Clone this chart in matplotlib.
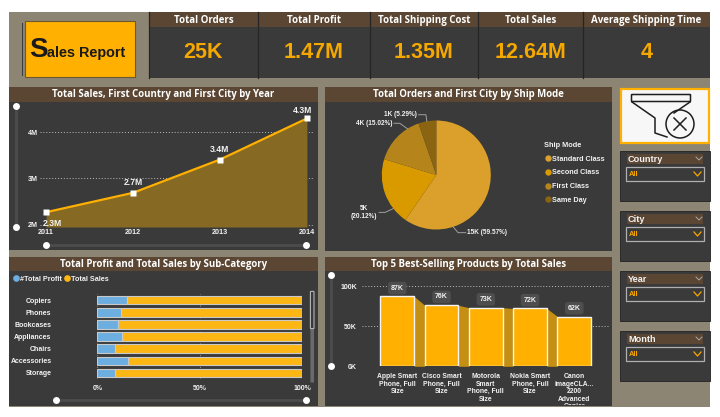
# -*- coding: utf-8 -*-
# Sales Report dashboard, laid out in pixel coordinates on a 720x417 canvas
import numpy as np
import matplotlib
matplotlib.use("Agg")
import matplotlib.pyplot as plt
from matplotlib.lines import Line2D
from matplotlib.patches import Rectangle, Circle, FancyBboxPatch
from matplotlib.transforms import Bbox

W, H = 720, 417

# ---- data ----
kpi_titles = ["Total Orders", "Total Profit", "Total Shipping Cost", "Total Sales", "Average Shipping Time"]
kpi_values = ["25K", "1.47M", "1.35M", "12.64M", "4"]

years = [2011, 2012, 2013, 2014]
year_sales = [2.27, 2.69, 3.41, 4.30]
year_labels = ["2.3M", "2.7M", "3.4M", "4.3M"]
year_ticks = [2, 3, 4]
year_tick_labels = ["2M", "3M", "4M"]

ship_modes = ["Standard Class", "Second Class", "First Class", "Same Day"]
ship_share = [59.57, 20.12, 15.02, 5.29]
ship_labels = ["15K (59.57%)", "5K\n(20.12%)", "4K (15.02%)", "1K (5.29%)"]

sub_categories = ["Copiers", "Phones", "Bookcases", "Appliances", "Chairs", "Accessories", "Storage"]
profit_pct = [14.7, 11.4, 10.0, 12.2, 8.6, 14.8, 8.8]
sales_pct = [85.3, 88.6, 90.0, 87.8, 91.4, 85.2, 91.2]

products = ["Apple Smart\nPhone, Full\nSize", "Cisco Smart\nPhone, Full\nSize",
            "Motorola\nSmart\nPhone, Full\nSize", "Nokia Smart\nPhone, Full\nSize",
            "Canon\nimageCLA...\n2200\nAdvanced\nCopier"]
product_sales = [87, 76, 73, 72, 62]
product_labels = ["87K", "76K", "73K", "72K", "62K"]

slicers = ["Country", "City", "Year", "Month"]

# ---- colours ----
TAN = "#8C8573"
PANEL = "#3A3A3A"
HEAD = "#5A4632"
ORANGE = "#FFB000"
KPI_ORANGE = "#F5A800"
WHITE = "#F2F2F2"
SANS = "Liberation Sans"
TITLE = "Open Sans"

plt.rcParams["font.family"] = SANS

fig = plt.figure(figsize=(W / 100, H / 100), dpi=100, facecolor="white")
bg = fig.add_axes([0, 0, 1, 1])
bg.set_xlim(0, W)
bg.set_ylim(H, 0)
bg.axis("off")


def box(x0, y0, x1, y1, color, **kw):
    bg.add_patch(Rectangle((x0, y0), x1 - x0, y1 - y0, facecolor=color, edgecolor=kw.pop("ec", "none"), **kw))


def px_axes(x0, y0, x1, y1):
    ax = fig.add_axes([x0 / W, 1 - y1 / H, (x1 - x0) / W, (y1 - y0) / H])
    ax.patch.set_alpha(0)
    for s in ax.spines.values():
        s.set_visible(False)
    return ax


def panel(x0, y0, x1, y1, title, head=15):
    box(x0, y0, x1, y1, PANEL)
    box(x0, y0, x1, y0 + head, HEAD)
    bg.text((x0 + x1) / 2, y0 + head / 2, title, color="white", ha="center", va="center",
            fontsize=6.9, fontweight="bold", family=TITLE)


def slider(x0, y0, x1, y1):
    bg.plot([x0, x1], [y0, y1], color="#4C4C4C", lw=2, solid_capstyle="round", zorder=2)
    bg.plot([x0, x1], [y0, y1], "o", color="white", ms=5, mec="none", zorder=3)


# ---- page background ----
box(9, 12, 710, 407, TAN)

# ---- logo ----
box(22, 23, 23, 76, "#3A3A3A")
box(25, 21, 135, 77, ORANGE, ec="#6B5A2E", lw=0.8)
bg.text(29, 57, "S", fontsize=20, fontweight="bold", color="#1A1A1A", va="baseline")
bg.text(47, 57, "ales Report", fontsize=10.4, fontweight="bold", color="#1A1A1A", va="baseline")

# ---- KPI cards ----
kpi_edges = [149, 258, 370, 478, 583, 710]
for i in range(5):
    x0, x1 = kpi_edges[i], kpi_edges[i + 1]
    box(x0, 12, x1, 78, PANEL)
    box(x0, 12, x1, 27, HEAD)
    bg.plot([x0, x0], [12, 78], color="#252525", lw=0.9)
    bg.text((x0 + x1) / 2, 20, kpi_titles[i], color="white", ha="center", va="center",
            fontsize=7.0, fontweight="bold", family=TITLE)
    bg.text((x0 + x1) / 2, 52, kpi_values[i], color=KPI_ORANGE, ha="center", va="center",
            fontsize=15.5, fontweight="bold")

# ---- panels ----
panel(9, 87, 318, 250, "Total Sales, First Country and First City by Year")
panel(325, 87, 612, 251, "Total Orders and First City by Ship Mode")
panel(9, 257, 318, 406, "Total Profit and Total Sales by Sub-Category", head=14)
panel(325, 257, 612, 406, "Top 5 Best-Selling Products by Total Sales", head=14)

# ---- line / area chart ----
ax1 = px_axes(40, 108, 313, 227)
ax1.set_xlim(2010.93, 2014.07)
ax1.set_ylim(1.95, 4.526)
ax1.fill_between(years, year_sales, 1.95, color="#866A24", lw=0, zorder=2)
ax1.plot(years, year_sales, color=ORANGE, lw=1.6, zorder=3)
ax1.plot(years, year_sales, "s", color="white", ms=4.2, mec="none", zorder=4, clip_on=False)
ax1.set_xticks(years)
ax1.set_xticklabels(years)
ax1.set_yticks(year_ticks)
ax1.set_yticklabels(year_tick_labels)
ax1.tick_params(length=0, labelcolor=WHITE, labelsize=5.2, pad=1.5)
for t in ax1.get_xticklabels() + ax1.get_yticklabels():
    t.set_fontweight("bold")
ax1.grid(axis="y", color="#BDBDBD", ls=(0, (1, 2)), lw=0.7, zorder=1)
label_offsets = [(4.5, -8), (0, 7.5), (0, 7.5), (-3, 6)]
for xv, yv, lab, off in zip(years, year_sales, year_labels, label_offsets):
    ax1.annotate(lab, (xv, yv), xytext=off, textcoords="offset points", ha="center", va="center",
                 color=WHITE, fontsize=6.2, fontweight="bold", zorder=5, annotation_clip=False)
slider(16, 106, 16, 227)
slider(46, 245, 306, 245)

# ---- pie ----
ax2 = px_axes(381.8, 120.5, 490.8, 229.5)
ship_colors = ["#DAA02B", "#D99A00", "#B5851C", "#8A6410"]
wedges, _ = ax2.pie(ship_share, colors=ship_colors, startangle=90, counterclock=False, radius=1,
                    wedgeprops=dict(lw=0))
ax2.set_xlim(-1, 1)
ax2.set_ylim(-1, 1)
# rim angle of each leader, elbow and label anchor (axes units, radius = 1)
label_pos = [(-72, 0.40, -1.058, 0.54, -1.058, "left"), (218, -0.94, -0.686, -1.05, -0.686, "right"),
             (122, -0.67, 0.949, -0.776, 0.949, "right"), (100, -0.19, 1.106, -0.354 + 0.03, 1.106, "right")]
for lab, (ang, ex, ey, tx, ty, ha) in zip(ship_labels, label_pos):
    a = np.deg2rad(ang)
    ax2.plot([np.cos(a), ex, tx], [np.sin(a), ey, ty], color="#A0A0A0", lw=0.7, clip_on=False)
    ax2.text(tx + (0.03 if ha == "left" else -0.03), ty, lab, ha=ha, va="center", color=WHITE,
             fontsize=4.7, fontweight="bold", multialignment="center")
ship_handles = [Line2D([], [], marker="o", ls="", color=c, ms=4.6, mec="none") for c in ship_colors]
leg2 = ax2.legend(ship_handles, ship_modes, title="Ship Mode", loc="upper left",
                  bbox_to_anchor=(544, 142), bbox_transform=bg.transData, frameon=False,
                  alignment="left", fontsize=5.2, labelcolor=WHITE, labelspacing=0.92,
                  handletextpad=0.1, borderpad=0, borderaxespad=0, handlelength=1.0)
leg2.get_title().set_color(WHITE)
leg2.get_title().set_fontsize(5.3)
leg2.get_title().set_fontweight("bold")
for t in leg2.get_texts():
    t.set_fontweight("bold")

# ---- 100% stacked bars ----
ax3 = px_axes(97.3, 294.2, 302, 379)
yb = np.arange(len(sub_categories))
ax3.set_axisbelow(True)
ax3.barh(yb, profit_pct, height=0.7, color="#6CAEE0", edgecolor="#C9C9C9", lw=0.8, zorder=3)
ax3.barh(yb, sales_pct, left=profit_pct, height=0.7, color="#FDB714", edgecolor="#C9C9C9", lw=0.8, zorder=3)
ax3.set_xlim(0, 100)
ax3.set_ylim(len(sub_categories) - 0.5, -0.5)
ax3.set_yticks(yb)
ax3.set_yticklabels(sub_categories)
ax3.set_xticks([0, 50, 100])
ax3.set_xticklabels(["0%", "50%", "100%"])
ax3.tick_params(axis="y", length=0, labelcolor=WHITE, labelsize=5.0, pad=33)
ax3.tick_params(axis="x", length=0, labelcolor=WHITE, labelsize=5.0, pad=4.5)
for t in ax3.get_xticklabels() + ax3.get_yticklabels():
    t.set_fontweight("bold")
ax3.grid(axis="x", color="#9A9A9A", ls=(0, (1, 2)), lw=0.7)
handles3 = [Line2D([], [], marker="o", ls="", color=c, ms=4.8, mec="none") for c in ["#6CAEE0", "#FDB714"]]
leg3 = ax3.legend(handles3, ["#Total Profit", "Total Sales"], ncols=2, loc="center left",
                  bbox_to_anchor=(12, 279), bbox_transform=bg.transData, frameon=False, fontsize=5.2,
                  labelcolor=WHITE, handletextpad=0.05, columnspacing=0.3, borderpad=0,
                  borderaxespad=0, handlelength=1.0)
for t in leg3.get_texts():
    t.set_fontweight("bold")
slider(56, 400, 306, 400)
bg.add_patch(FancyBboxPatch((311, 292), 2.4, 90, boxstyle="round,pad=0.6", fc="#6A6A6A", ec="none", zorder=2))
bg.add_patch(FancyBboxPatch((311, 292), 2.4, 36, boxstyle="round,pad=0.6", fc="#3A3A3A", ec="#B5B5B5", lw=0.8, zorder=3))

# ---- top 5 products with ribbons ----
ax4 = px_axes(362, 280, 610, 366.3)
xp = np.arange(len(products))
bar_w = 0.76
ax4.set_xlim(-0.798, 4.807)
ax4.set_ylim(0, 107.5)
for i in range(len(products) - 1):
    ax4.fill_between([xp[i] + bar_w / 2, xp[i + 1] - bar_w / 2], [product_sales[i], product_sales[i + 1]], 0,
                     color="#C48F12", lw=0, zorder=2)
ax4.bar(xp, product_sales, width=bar_w, color=ORANGE, edgecolor="#F4F4F4", lw=1.0, zorder=3)
ax4.set_yticks([0, 50, 100])
ax4.set_yticklabels(["0K", "50K", "100K"])
ax4.set_xticks(xp)
ax4.set_xticklabels(products, linespacing=1.1)
ax4.tick_params(axis="y", length=0, labelcolor=WHITE, labelsize=5.0, pad=3.5)
ax4.tick_params(axis="x", length=0, labelcolor=WHITE, labelsize=4.9, pad=5)
clip = Bbox([[0, H - 405], [W, H]])
for t in ax4.get_xticklabels():
    t.set_fontweight("bold")
    t.set_clip_on(True)
    t.set_clip_box(clip)
for t in ax4.get_yticklabels():
    t.set_fontweight("bold")
ax4.grid(axis="y", color="#BDBDBD", ls=(0, (1, 2)), lw=0.7, zorder=1)
for xv, yv, lab in zip(xp, product_sales, product_labels):
    ax4.annotate(lab, (xv, yv), xytext=(0, 6), textcoords="offset points", ha="center", va="center",
                 color=WHITE, fontsize=5.0, fontweight="bold", zorder=5, annotation_clip=False,
                 bbox=dict(boxstyle="round,pad=0.4", fc="#4E4E4E", ec="none"))
slider(331, 275, 331, 366)

# ---- clear-filter button ----
box(621, 89, 709, 143, "#F7F7F7", ec=ORANGE, lw=1.6)
bg.add_patch(FancyBboxPatch((632, 95), 58, 6, boxstyle="round,pad=0.5", fc="none", ec="#1E1E1E", lw=1.1))
bg.plot([632, 655, 655, 667], [102, 118, 133, 137], color="#1E1E1E", lw=1.1)
bg.plot([690, 674], [102, 113], color="#1E1E1E", lw=1.1)
bg.add_patch(Circle((680, 124), 14, fc="none", ec="#1E1E1E", lw=1.1))
bg.plot([674, 686], [118, 130], color="#1E1E1E", lw=1.1)
bg.plot([674, 686], [130, 118], color="#1E1E1E", lw=1.1)

# ---- slicers ----
slicer_tops = [151, 211, 271, 331]
for name, top in zip(slicers, slicer_tops):
    box(620, top, 710, top + 50, PANEL, ec="#222222", lw=0.6)
    box(627, top + 3, 703, top + 13, HEAD)
    bg.text(628, top + 8, name, color=WHITE, fontsize=6.6, fontweight="bold", va="center")
    bg.plot([696, 699, 702], [top + 6, top + 9, top + 6], color="#A8A8A8", lw=0.7)
    box(626, top + 16, 704, top + 30, "none", ec="#B0B0B0", lw=0.9)
    bg.text(629, top + 23, "All", color=KPI_ORANGE, fontsize=5.4, fontweight="bold", va="center")
    bg.plot([694, 697.5, 701], [top + 21, top + 25, top + 21], color=KPI_ORANGE, lw=0.9)

fig.savefig("out.png", dpi=100)
